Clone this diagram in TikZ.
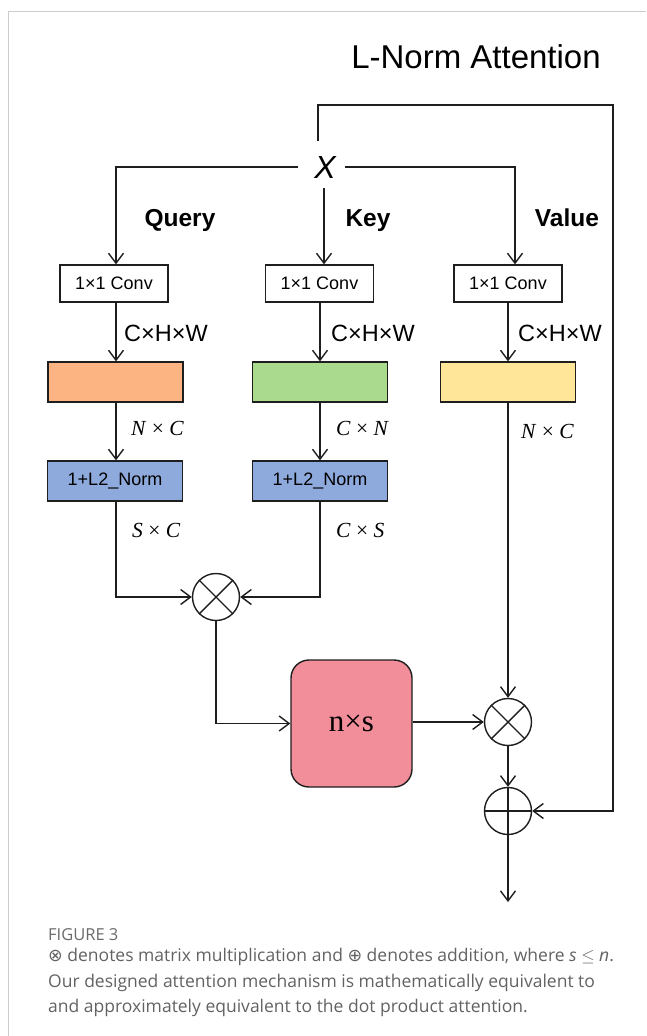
\documentclass[tikz,border=0pt]{standalone}
\usepackage{fontspec}
\setmainfont{Liberation Sans}
\newfontfamily\capfont{Open Sans}
\newfontfamily\serifx{Liberation Serif}
\newfontfamily\symfont{DejaVu Sans}
\usetikzlibrary{arrows.meta,calc}
\definecolor{cOrange}{HTML}{FBB482}
\definecolor{cGreen}{HTML}{A9DA8E}
\definecolor{cYellow}{HTML}{FFE699}
\definecolor{cBlue}{HTML}{8EA9DB}
\definecolor{cPink}{HTML}{F28E9A}
\definecolor{cLine}{HTML}{1E1E1E}
\definecolor{cFrame}{HTML}{CCCCCC}
\definecolor{cCap}{HTML}{626262}
\definecolor{cFig}{HTML}{6A6A6A}
\newcommand{\dimtxt}[2]{\textit{#1} \upshape× \textit{#2}}
\tikzset{
  wire/.style={draw=cLine, line width=1.4pt},
  arr/.style={wire, -{Straight Barb[length=10pt,width=15pt,line width=1.4pt]}},
  convbox/.style={draw=cLine, line width=1.3pt, fill=white, minimum width=108pt, minimum height=37pt, inner sep=0pt, font=\fontsize{18}{20}\selectfont},
  colbox/.style={draw=cLine, line width=1.3pt, minimum width=135pt, minimum height=40pt, inner sep=0pt, font=\fontsize{18}{20}\selectfont},
  opnode/.style={circle, draw=cLine, line width=1.4pt, minimum size=47pt, inner sep=0pt},
  dimlbl/.style={anchor=west, inner sep=0pt, font=\fontsize{23.5}{26}\selectfont},
  mathlbl/.style={anchor=west, inner sep=0pt, font=\serifx\fontsize{21.5}{24}\selectfont},
  headlbl/.style={anchor=base, inner sep=0pt, font=\fontsize{24.5}{28}\selectfont\bfseries},
  caprow/.style={anchor=west, inner sep=0pt, text=cCap, font=\capfont\fontsize{17.5}{20}\selectfont}
}
\begin{document}
\begin{tikzpicture}[x=1pt,y=-1pt]
\useasboundingbox (0,0) rectangle (646,1036);
% frame
\draw[cFrame, line width=1pt] (8,1036) -- (8,11) -- (646,11);
% title
\node[inner sep=0pt, font=\fontsize{33}{38}\selectfont] (title) at (476,57) {L-Norm Attention};
% X
\node[inner sep=2pt, font=\fontsize{32}{36}\selectfont\itshape] (X) at (325,167) {X};
% heads
\node[headlbl] (q) at (180,226) {Query};
\node[headlbl] (k) at (368,226) {Key};
\node[headlbl] (v) at (567,226) {Value};
% conv boxes
\node[convbox] (c1) at (114,283.5) {1×1 Conv};
\node[convbox] (c2) at (319.5,283.5) {1×1 Conv};
\node[convbox] (c3) at (508,283.5) {1×1 Conv};
% colored boxes
\node[colbox, fill=cOrange] (b1) at (115.5,382) {};
\node[colbox, fill=cGreen] (b2) at (320,382) {};
\node[colbox, fill=cYellow] (b3) at (508,382) {};
% norm boxes
\node[colbox, fill=cBlue] (n1) at (115,481) {1+L2\_Norm};
\node[colbox, fill=cBlue] (n2) at (320,481) {1+L2\_Norm};
% operators
\node[opnode] (m1) at (216,597) {};
\draw[wire] (m1.north west) -- (m1.south east) (m1.north east) -- (m1.south west);
\node[opnode] (m2) at (508,722) {};
\draw[wire] (m2.north west) -- (m2.south east) (m2.north east) -- (m2.south west);
\node[opnode] (p1) at (508,811) {};
\draw[wire] (p1.north) -- (p1.south) (p1.west) -- (p1.east);
% pink
\node[draw=cLine, line width=1.4pt, fill=cPink, rounded corners=18pt, minimum width=121pt, minimum height=127pt, inner sep=0pt, font=\serifx\fontsize{31}{33}\selectfont] (ns) at (351.5,723.5) {n×s};
% dimension labels
\node[dimlbl] (d1) at (124,333) {C×H×W};
\node[dimlbl] (d2) at (331,333) {C×H×W};
\node[dimlbl] (d3) at (518,333) {C×H×W};
\node[mathlbl] (e1) at (131,428) {\dimtxt{N}{C}};
\node[mathlbl] (e2) at (336,428) {\dimtxt{C}{N}};
\node[mathlbl] (e3) at (521,431) {\dimtxt{N}{C}};
\node[mathlbl] (f1) at (132,530) {\dimtxt{S}{C}};
\node[mathlbl] (f2) at (336,530) {\dimtxt{C}{S}};
% coordinates
\coordinate (xl) at (298,167);
\coordinate (xr) at (345,167);
\coordinate (xb) at (324,188);
\coordinate (xt) at (318,141);
\coordinate (fb1) at (318,105);
\coordinate (fb2) at (613,105);
\coordinate (out) at (508,902);
% connectors
\draw[arr] (xl) -| (c1.north -| 116,0);
\draw[arr] (xr) -| (c3.north -| 515,0);
\draw[arr] (xb) -- (c2.north -| 324,0);
\draw[arr] (xt) -- (fb1) -- (fb2) |- (p1.east);
\draw[arr] (c1.south -| 116,0) -- (b1.north -| 116,0);
\draw[arr] (c2.south -| 320,0) -- (b2.north -| 320,0);
\draw[arr] (c3.south -| 508,0) -- (b3.north -| 508,0);
\draw[arr] (b1.south -| 116,0) -- (n1.north -| 116,0);
\draw[arr] (b2.south -| 320,0) -- (n2.north -| 320,0);
\draw[arr] (n1.south -| 116,0) |- (m1.west);
\draw[arr] (n2.south -| 320,0) |- (m1.east);
\draw[arr] (m1.south) |- (ns.west);
\draw[arr] (ns.east |- m2.west) -- (m2.west);
\draw[arr] (b3.south) -- (m2.north);
\draw[arr] (m2.south) -- (p1.north);
\draw[arr] (p1.south) -- (out);
% caption
\node[anchor=west, inner sep=0pt, text=cFig, font=\capfont\fontsize{16.5}{18}\selectfont] (figl) at (48,935) {FIGURE 3};
\node[caprow] (cap1) at (48,957) {{\symfont ⊗} denotes matrix multiplication and {\symfont ⊕} denotes addition, where \textit{s} $\leq$ \textit{n}.};
\node[caprow] (cap2) at (48,983) {Our designed attention mechanism is mathematically equivalent to};
\node[caprow] (cap3) at (48,1008) {and approximately equivalent to the dot product attention.};
\end{tikzpicture}
\end{document}
